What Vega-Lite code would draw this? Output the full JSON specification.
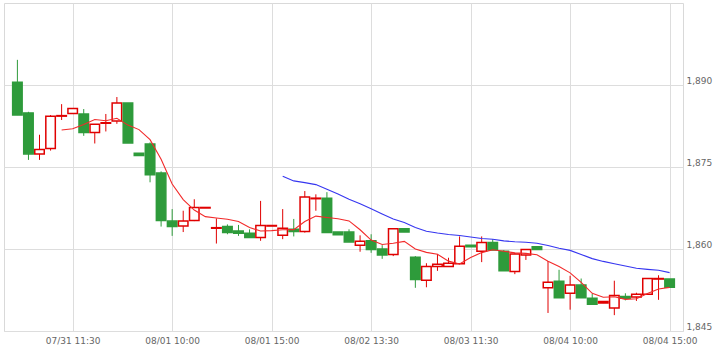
{
  "$schema": "https://vega.github.io/schema/vega-lite/v6.json",
  "width": 679,
  "height": 328,
  "autosize": {"type": "none"},
  "padding": {"left": 4, "top": 3, "right": 37, "bottom": 21},
  "background": "#ffffff",
  "config": {"view": {"stroke": "#d9d9d9"}},
  "data": {"values": [
    {"i":0,"o":1890.5,"h":1894.6,"l":1884.5,"c":1884.5,"ma5":null,"ma25":null},
    {"i":1,"o":1884.9,"h":1885.1,"l":1876.3,"c":1877.4,"ma5":null,"ma25":null},
    {"i":2,"o":1877.4,"h":1880.9,"l":1876.3,"c":1878.2,"ma5":null,"ma25":null},
    {"i":3,"o":1878.4,"h":1884.5,"l":1878.0,"c":1884.3,"ma5":null,"ma25":null},
    {"i":4,"o":1884.3,"h":1886.5,"l":1883.6,"c":1884.4,"ma5":1881.76,"ma25":null},
    {"i":5,"o":1884.8,"h":1885.7,"l":1884.8,"c":1885.7,"ma5":1882.0,"ma25":null},
    {"i":6,"o":1884.7,"h":1885.6,"l":1880.7,"c":1881.3,"ma5":1882.78,"ma25":null},
    {"i":7,"o":1881.3,"h":1882.8,"l":1879.3,"c":1882.8,"ma5":1883.7,"ma25":null},
    {"i":8,"o":1883.0,"h":1884.7,"l":1881.5,"c":1883.1,"ma5":1883.46,"ma25":null},
    {"i":9,"o":1883.4,"h":1887.8,"l":1882.9,"c":1886.7,"ma5":1883.92,"ma25":null},
    {"i":10,"o":1886.7,"h":1886.7,"l":1879.4,"c":1879.4,"ma5":1882.66,"ma25":null},
    {"i":11,"o":1877.5,"h":1877.5,"l":1877.1,"c":1877.1,"ma5":1881.84,"ma25":null},
    {"i":12,"o":1879.2,"h":1879.5,"l":1872.2,"c":1873.6,"ma5":1880.0,"ma25":null},
    {"i":13,"o":1873.9,"h":1874.2,"l":1864.1,"c":1865.2,"ma5":1876.42,"ma25":null},
    {"i":14,"o":1865.1,"h":1867.3,"l":1862.4,"c":1864.1,"ma5":1871.9,"ma25":null},
    {"i":15,"o":1864.2,"h":1867.0,"l":1863.1,"c":1865.1,"ma5":1869.04,"ma25":null},
    {"i":16,"o":1865.2,"h":1869.1,"l":1865.1,"c":1867.6,"ma5":1867.12,"ma25":null},
    {"i":17,"o":1867.5,"h":1867.6,"l":1867.5,"c":1867.6,"ma5":1865.92,"ma25":null},
    {"i":18,"o":1863.8,"h":1865.6,"l":1861.0,"c":1863.9,"ma5":1865.66,"ma25":null},
    {"i":19,"o":1864.1,"h":1864.5,"l":1862.7,"c":1863.0,"ma5":1865.44,"ma25":null},
    {"i":20,"o":1863.3,"h":1864.4,"l":1862.4,"c":1862.9,"ma5":1865.04,"ma25":null},
    {"i":21,"o":1862.9,"h":1863.6,"l":1862.1,"c":1862.1,"ma5":1863.94,"ma25":null},
    {"i":22,"o":1862.1,"h":1868.8,"l":1861.5,"c":1864.3,"ma5":1863.28,"ma25":null},
    {"i":23,"o":1864.2,"h":1864.3,"l":1864.2,"c":1864.3,"ma5":1863.36,"ma25":null},
    {"i":24,"o":1862.5,"h":1867.3,"l":1861.8,"c":1863.8,"ma5":1863.52,"ma25":1873.31},
    {"i":25,"o":1863.6,"h":1865.5,"l":1862.3,"c":1863.2,"ma5":1863.54,"ma25":1872.46},
    {"i":26,"o":1863.2,"h":1870.6,"l":1863.0,"c":1869.5,"ma5":1865.02,"ma25":1872.14},
    {"i":27,"o":1869.2,"h":1870.0,"l":1867.0,"c":1869.3,"ma5":1866.02,"ma25":1871.78},
    {"i":28,"o":1869.3,"h":1870.4,"l":1863.0,"c":1863.0,"ma5":1865.76,"ma25":1870.93},
    {"i":29,"o":1863.1,"h":1863.1,"l":1862.6,"c":1862.6,"ma5":1865.52,"ma25":1870.06},
    {"i":30,"o":1863.1,"h":1863.6,"l":1861.3,"c":1861.3,"ma5":1865.14,"ma25":1869.08},
    {"i":31,"o":1860.7,"h":1862.5,"l":1859.5,"c":1861.4,"ma5":1863.52,"ma25":1868.29},
    {"i":32,"o":1861.5,"h":1862.7,"l":1859.3,"c":1859.9,"ma5":1861.64,"ma25":1867.37},
    {"i":33,"o":1860.0,"h":1860.7,"l":1858.2,"c":1858.9,"ma5":1860.82,"ma25":1866.4},
    {"i":34,"o":1859.0,"h":1863.7,"l":1858.7,"c":1863.7,"ma5":1861.04,"ma25":1865.48},
    {"i":35,"o":1863.7,"h":1863.7,"l":1863.1,"c":1863.1,"ma5":1861.4,"ma25":1864.83},
    {"i":36,"o":1858.5,"h":1858.7,"l":1852.9,"c":1854.4,"ma5":1860.0,"ma25":1863.92},
    {"i":37,"o":1854.3,"h":1857.4,"l":1853.0,"c":1856.8,"ma5":1859.38,"ma25":1863.25},
    {"i":38,"o":1856.8,"h":1859.1,"l":1856.0,"c":1857.2,"ma5":1859.04,"ma25":1862.93},
    {"i":39,"o":1856.8,"h":1858.4,"l":1856.8,"c":1857.4,"ma5":1857.78,"ma25":1862.66},
    {"i":40,"o":1857.3,"h":1862.3,"l":1857.2,"c":1860.5,"ma5":1857.26,"ma25":1862.48},
    {"i":41,"o":1860.7,"h":1860.7,"l":1860.4,"c":1860.4,"ma5":1858.46,"ma25":1862.19},
    {"i":42,"o":1859.6,"h":1862.3,"l":1857.6,"c":1861.2,"ma5":1859.34,"ma25":1861.93},
    {"i":43,"o":1861.2,"h":1861.8,"l":1859.8,"c":1859.8,"ma5":1859.86,"ma25":1861.77},
    {"i":44,"o":1859.6,"h":1859.8,"l":1856.0,"c":1856.0,"ma5":1859.58,"ma25":1861.49},
    {"i":45,"o":1855.9,"h":1859.3,"l":1855.4,"c":1859.1,"ma5":1859.3,"ma25":1861.33},
    {"i":46,"o":1858.9,"h":1859.9,"l":1858.0,"c":1859.9,"ma5":1859.2,"ma25":1861.24},
    {"i":47,"o":1860.4,"h":1860.4,"l":1859.9,"c":1859.9,"ma5":1858.94,"ma25":1861.06},
    {"i":48,"o":1852.9,"h":1857.8,"l":1848.3,"c":1853.9,"ma5":1857.76,"ma25":1860.65},
    {"i":49,"o":1854.1,"h":1856.2,"l":1851.1,"c":1851.1,"ma5":1856.78,"ma25":1860.14},
    {"i":50,"o":1851.9,"h":1855.1,"l":1848.9,"c":1853.4,"ma5":1855.64,"ma25":1859.75},
    {"i":51,"o":1853.4,"h":1854.6,"l":1851.1,"c":1851.1,"ma5":1853.88,"ma25":1859.01},
    {"i":52,"o":1851.0,"h":1851.8,"l":1849.9,"c":1849.9,"ma5":1851.88,"ma25":1858.24},
    {"i":53,"o":1850.1,"h":1850.4,"l":1850.1,"c":1850.4,"ma5":1851.18,"ma25":1857.73},
    {"i":54,"o":1849.2,"h":1854.2,"l":1847.9,"c":1851.5,"ma5":1851.26,"ma25":1857.29},
    {"i":55,"o":1851.3,"h":1851.9,"l":1850.6,"c":1851.0,"ma5":1850.78,"ma25":1856.88},
    {"i":56,"o":1851.2,"h":1852.0,"l":1850.5,"c":1851.7,"ma5":1850.9,"ma25":1856.49},
    {"i":57,"o":1851.7,"h":1854.6,"l":1851.7,"c":1854.6,"ma5":1851.84,"ma25":1856.28},
    {"i":58,"o":1854.5,"h":1855.2,"l":1850.7,"c":1854.6,"ma5":1852.68,"ma25":1856.1},
    {"i":59,"o":1854.5,"h":1854.5,"l":1853.0,"c":1853.0,"ma5":1852.98,"ma25":1855.68}
  ]},
  "encoding": {
    "x": {
      "field": "i",
      "type": "quantitative",
      "scale": {"domain": [-0.76, 59.76], "nice": false, "zero": false},
      "axis": {
        "title": null,
        "values": [5, 14, 23, 32, 41, 50, 59],
        "labelExpr": "['07/31 11:30','08/01 10:00','08/01 15:00','08/02 13:30','08/03 11:30','08/04 10:00','08/04 15:00'][round((datum.value-5)/9)]",
        "grid": true,
        "gridColor": "#dddddd",
        "domain": false,
        "ticks": false,
        "labelFlush": false,
        "labelFont": "DejaVu Sans",
        "labelFontSize": 9,
        "labelColor": "#666666",
        "labelPadding": 5
      }
    }
  },
  "layer": [
    {
      "mark": {"type": "rule", "strokeWidth": 1},
      "encoding": {
        "y": {
          "field": "l",
          "type": "quantitative",
          "title": null,
          "scale": {"domain": [1845, 1905], "nice": false, "zero": false},
          "axis": {
            "title": null,
            "orient": "right",
            "values": [1845, 1860, 1875, 1890],
            "format": ",d",
            "grid": true,
            "gridColor": "#dddddd",
            "domain": false,
            "ticks": false,
            "labelBaseline": "bottom",
            "labelAlign": "left",
            "labelPadding": 3,
            "labelFlush": false,
            "labelFont": "DejaVu Sans",
            "labelFontSize": 9,
            "labelColor": "#666666"
          }
        },
        "y2": {"field": "h"},
        "color": {"condition": {"test": "datum.c >= datum.o", "value": "#e00000"}, "value": "#2e9b3b"}
      }
    },
    {
      "mark": {"type": "bar", "width": 9.5, "strokeWidth": 1.5},
      "encoding": {
        "y": {"field": "o", "type": "quantitative", "title": null},
        "y2": {"field": "c"},
        "fill": {"condition": {"test": "datum.c >= datum.o", "value": "#ffffff"}, "value": "#2e9b3b"},
        "stroke": {"condition": {"test": "datum.c >= datum.o", "value": "#e00000"}, "value": "#2e9b3b"}
      }
    },
    {
      "mark": {"type": "line", "color": "#f22a2a", "strokeWidth": 1.1},
      "encoding": {"y": {"field": "ma5", "type": "quantitative", "title": null}}
    },
    {
      "mark": {"type": "line", "color": "#3636f0", "strokeWidth": 1.1},
      "encoding": {"y": {"field": "ma25", "type": "quantitative", "title": null}}
    }
  ]
}
